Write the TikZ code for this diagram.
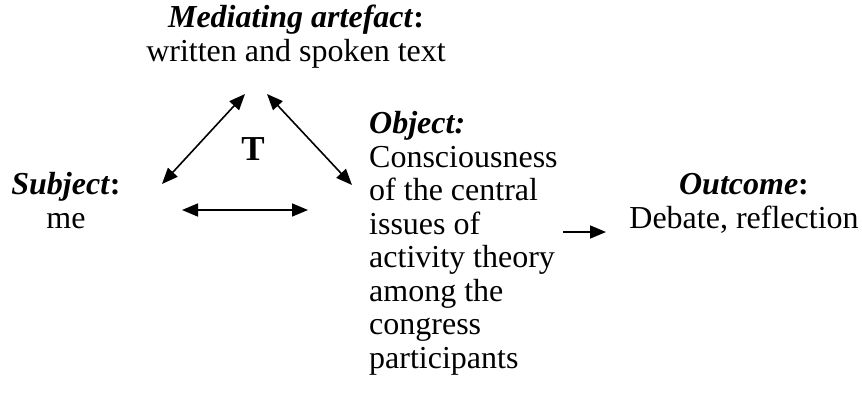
\documentclass[tikz,border=0pt]{standalone}
\usepackage{fontspec}
\setmainfont{Liberation Serif}
\usetikzlibrary{arrows.meta}
\begin{document}
\begin{tikzpicture}[x=1pt,y=-1pt,
  lbl/.style={inner sep=0pt, font=\fontsize{32}{33.5}\selectfont},
  conn/.style={line width=1.6pt, {Triangle[length=16pt,width=13pt]}-{Triangle[length=16pt,width=13pt]}},
  oneway/.style={line width=1.6pt, -{Triangle[length=16pt,width=13pt]}}]
\useasboundingbox (0,0) rectangle (862,399);
\node[lbl, align=center, anchor=base] (med) at (296,61) {\textbf{\textit{Mediating artefact}:}\\written and spoken text};
\node[lbl, align=center, anchor=base] (subj) at (66,228) {\textbf{\textit{Subject}:}\\me};
\node[lbl, align=left, anchor=base west] (obj) at (369,368) {\textbf{\textit{Object:}}\\Consciousness\\of the central\\issues of\\activity theory\\among the\\congress\\participants};
\node[lbl, align=center, anchor=base] (out) at (744,228) {\textbf{\textit{Outcome}:}\\Debate, reflection};
\node[lbl, anchor=base, font=\fontsize{35}{38}\selectfont] (tool) at (253,160) {\textbf{T}};
\coordinate (l1) at (162,184);
\coordinate (l2) at (245,94);
\coordinate (r1) at (267,94);
\coordinate (r2) at (352,185);
\coordinate (h1) at (182,210);
\coordinate (h2) at (308,210);
\coordinate (o1) at (563,232);
\coordinate (o2) at (606,232);
\draw[conn] (l1) -- (l2);
\draw[conn] (r1) -- (r2);
\draw[conn] (h1) -- (h2);
\draw[oneway] (o1) -- (o2);
\end{tikzpicture}
\end{document}
